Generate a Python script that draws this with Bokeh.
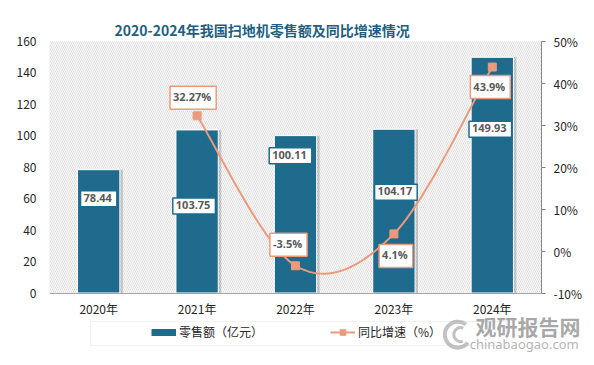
from bokeh.plotting import figure
from bokeh.models import (Range1d, LinearAxis, FixedTicker, PrintfTickFormatter,
                          BoxAnnotation, Label, Legend, LegendItem, ColumnDataSource)
from bokeh.embed import file_html
from bokeh.resources import INLINE

# ---- data ----
years = ["2020年", "2021年", "2022年", "2023年", "2024年"]
retail = [78.44, 103.75, 100.11, 104.17, 149.93]          # 亿元
growth_years = ["2021年", "2022年", "2023年", "2024年"]
growth = [32.27, -3.5, 4.1, 43.9]                         # %
left_ticks = [0, 20, 40, 60, 80, 100, 120, 140, 160]
right_ticks = [-10, 0, 10, 20, 30, 40, 50]
title_text = "2020-2024年我国扫地机零售额及同比增速情况"

BAR = "#1f6b8e"
LINE = "#eb9a7b"
CJK = "Noto Sans CJK SC"

xpos = [i + 0.5 for i in range(len(years))]
gx = [years.index(y) + 0.5 for y in growth_years]

# The frame covers the whole card (title strip, plot area, legend strip, right margin);
# the axes are fixed at the plot area's edges.
NX = len(years)
XMAX = NX * 545 / 492.0
K = 251.5 / 160.0                 # px per unit of the left axis
YMAX = 160 + 41 / K
YMIN = -(352 - 292.5) / K
PMIN = -10 + YMIN * 60 / 160.0
PMAX = -10 + YMAX * 60 / 160.0

p = figure(width=594, height=365, output_backend="svg", toolbar_location=None,
           x_range=Range1d(0, XMAX), y_range=Range1d(YMIN, YMAX),
           min_border_left=49, min_border_right=0, min_border_top=0, min_border_bottom=13)
p.extra_y_ranges = {"pct": Range1d(PMIN, PMAX)}
p.background_fill_color = "white"
p.border_fill_color = "white"
p.outline_line_color = None
p.xgrid.visible = False
p.ygrid.visible = False

# title
p.add_layout(Label(x=0.66, y=160 + 11.5 / K, text=title_text, text_align="left",
                   text_baseline="middle", text_font=CJK, text_font_style="bold",
                   text_font_size="14px", text_color="#1f5f80"))

# hatched plot background
p.add_layout(BoxAnnotation(bottom=0, top=160, left=0, right=NX, fill_color="white", fill_alpha=1,
                           line_alpha=0, hatch_pattern="\\", hatch_color="#d4d4d4", hatch_scale=4,
                           hatch_weight=0.8, level="underlay"))

# axes
ax = p.xaxis[0]
ax.fixed_location = 0
ax.bounds = (0, NX)
ax.ticker = FixedTicker(ticks=xpos)
ax.major_label_overrides = {x: y for x, y in zip(xpos, years)}
ax.major_tick_line_color = None
ax.major_tick_out = 0
ax.minor_tick_line_color = None
ax.axis_line_color = "#a6a6a6"
ax.major_label_text_font = CJK
ax.major_label_text_font_size = "12px"
ax.major_label_text_color = "#262626"
ax.major_label_standoff = 7

ay = p.yaxis[0]
ay.ticker = FixedTicker(ticks=left_ticks)
ay.axis_line_color = None
ay.major_tick_line_color = None
ay.major_tick_out = 0
ay.minor_tick_line_color = None
ay.major_label_text_font = CJK
ay.major_label_text_font_size = "12px"
ay.major_label_text_color = "#262626"
ay.major_label_standoff = 13

ry = LinearAxis(y_range_name="pct", ticker=FixedTicker(ticks=right_ticks),
                formatter=PrintfTickFormatter(format="%d%%"), bounds=(-10, 50),
                fixed_location=NX)
ry.axis_line_color = "#868686"
ry.major_tick_line_color = "#868686"
ry.major_tick_out = 4
ry.major_tick_in = 0
ry.minor_tick_line_color = None
ry.major_label_text_font = CJK
ry.major_label_text_font_size = "12px"
ry.major_label_text_color = "#262626"
ry.major_label_standoff = 8
p.add_layout(ry, "right")

# bars (with soft shadow)
src = ColumnDataSource(dict(x=xpos, v=retail, xs=[x + 0.03 for x in xpos]))
p.vbar(x="xs", top="v", width=0.43, source=src, fill_color="#000000", fill_alpha=0.18, line_alpha=0)
bars = p.vbar(x="x", top="v", width=0.43, source=src, fill_color=BAR, line_color="white", line_width=1)

# smoothed growth line (Catmull-Rom style Bezier through the data points)
pts = list(zip(gx, growth))
x0 = []; y0 = []; x1 = []; y1 = []; cx0 = []; cy0 = []; cx1 = []; cy1 = []
n = len(pts)
for i in range(n - 1):
    pa = pts[i - 1] if i > 0 else pts[i]
    pb = pts[i]
    pc = pts[i + 1]
    pd = pts[i + 2] if i + 2 < n else pts[i + 1]
    x0.append(pb[0]); y0.append(pb[1]); x1.append(pc[0]); y1.append(pc[1])
    cx0.append(pb[0] + (pc[0] - pa[0]) / 6); cy0.append(pb[1] + (pc[1] - pa[1]) / 6)
    cx1.append(pc[0] - (pd[0] - pb[0]) / 6); cy1.append(pc[1] - (pd[1] - pb[1]) / 6)
p.bezier(x0=x0, y0=y0, x1=x1, y1=y1, cx0=cx0, cy0=cy0, cx1=cx1, cy1=cy1,
         line_color=LINE, line_width=2, y_range_name="pct")
marks = p.scatter(gx, growth, marker="square", size=8, fill_color=LINE, line_color=LINE,
                  y_range_name="pct")

# data labels
bar_dx = [0, -3, -5, 2, -2]
bar_dy = [-29, -76, -20, -63, -72]
for x, v, dx, dy in zip(xpos, retail, bar_dx, bar_dy):
    p.add_layout(Label(x=x, y=v, text=f"{v:.2f}", x_offset=dx, y_offset=dy,
                       text_align="center", text_baseline="middle",
                       text_font="Open Sans", text_font_style="bold", text_font_size="11px",
                       text_color="#595959", background_fill_color="white",
                       border_line_color=BAR, border_line_width=1.5, padding=(3, 5, 3, 5)))
pct_dx = [-4, -7, 2, -2]
pct_dy = [18, 21, -22, -20]
for x, v, dx, dy in zip(gx, growth, pct_dx, pct_dy):
    p.add_layout(Label(x=x, y=v, y_range_name="pct", text=f"{v:g}%", x_offset=dx, y_offset=dy,
                       text_align="center", text_baseline="middle",
                       text_font="Open Sans", text_font_style="bold", text_font_size="11px",
                       text_color="#595959", background_fill_color="white",
                       border_line_color=LINE, border_line_width=1.5, padding=(3, 5, 3, 5)))

# legend box outline + legend (legend-only renderers sit far outside the view)
p.add_layout(BoxAnnotation(left=0.417, right=4.644, top=-(321 - 292.5) / K, bottom=-(345 - 292.5) / K,
                           fill_alpha=0, line_color="#d0d0d0", line_width=1, level="underlay"))
leg_bar = p.line([-9, -8], [-900, -900], line_color=BAR, line_width=7)
leg_line = p.line([-9, -8], [-900, -900], line_color=LINE, line_width=2)
legend = Legend(items=[LegendItem(label="零售额（亿元）", renderers=[leg_bar]),
                       LegendItem(label="同比增速（%）", renderers=[leg_line, marks])],
                orientation="horizontal", location=(97, 7),
                label_text_font=CJK, label_text_font_size="12px", label_text_color="#262626",
                glyph_width=25, glyph_height=14, label_height=14, label_standoff=3,
                spacing=67, padding=5, margin=0,
                border_line_alpha=0, background_fill_alpha=0)
p.add_layout(legend, "center")

# watermark
p.arc(x=4.15, y=-26.5, radius=13, radius_units="screen", start_angle=0.9, end_angle=5.6,
      line_color="#9a9a9a", line_width=4, line_alpha=0.6)
p.arc(x=4.18, y=-26.5, radius=7, radius_units="screen", start_angle=1.2, end_angle=5.0,
      line_color="#9a9a9a", line_width=3, line_alpha=0.6)
p.add_layout(Label(x=4.33, y=-20.7, text="观研报告网", text_font=CJK, text_font_style="bold",
                   text_font_size="21px", text_color="#8c8c8c", text_alpha=0.75,
                   text_baseline="middle"))
p.add_layout(Label(x=4.27, y=-32.2, text="chinabaogao.com", text_font="Noto Sans",
                   text_font_size="13px", text_color="#9a9a9a", text_alpha=0.75,
                   text_baseline="middle"))

open("out.html", "w").write(file_html(p, INLINE))
